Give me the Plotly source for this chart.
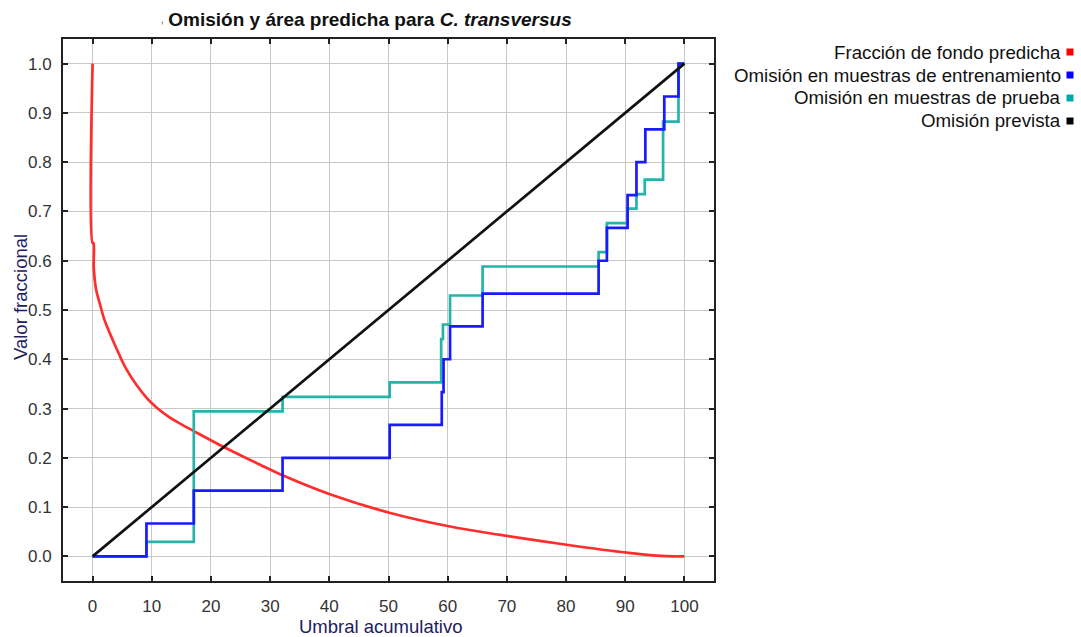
import plotly.graph_objects as go

# Cumulative threshold (x) vs fractional value (y)
bg_x = [0, 0, 0.15, 0.2, 0.6, 1.2, 2.0, 2.7, 4.0, 5.7, 9.1, 11, 13, 15, 17, 22,
        28.3, 32.2, 40.1, 50.3, 60.4, 68.9, 80.1, 90.2, 96, 98, 100]
bg_y = [1.0, 0.636, 0.636, 0.585, 0.541, 0.514, 0.48, 0.459, 0.423, 0.38, 0.322,
        0.300, 0.282, 0.268, 0.255, 0.223, 0.186, 0.164, 0.126, 0.088, 0.0605,
        0.0435, 0.0235, 0.0075, 0.001, 0.0, 0.0]

train_x = [0, 9.1, 17.1, 32.1, 50.2, 59.0, 59.3, 60.4, 65.9, 85.5, 86.9, 90.4,
           91.9, 93.4, 96.6, 99.0, 100]
train_y = [0, 1/15, 2/15, 3/15, 4/15, 5/15, 6/15, 7/15, 8/15, 9/15, 10/15, 11/15,
           12/15, 13/15, 14/15, 1.0, 1.0]

test_x = [0, 9.1, 17.1, 32.1, 50.2, 58.9, 59.2, 60.4, 65.9, 85.5, 86.9, 90.4,
          91.9, 93.3, 96.4, 99.0, 100]
test_y = [0, 1/34, 10/34, 11/34, 12/34, 15/34, 16/34, 18/34, 20/34, 21/34, 23/34,
          24/34, 25/34, 26/34, 30/34, 1.0, 1.0]

pred_x = [0, 100]
pred_y = [0, 1]

legend_labels = ["Fracción de fondo predicha", "Omisión en muestras de entrenamiento",
                 "Omisión en muestras de prueba", "Omisión prevista"]
colors = ["#ff2e2e", "#1a1aff", "#26b3aa", "#111111"]
swatch_colors = ["#ff0000", "#0000ff", "#00aaaa", "#000000"]

x_ticks = list(range(0, 101, 10))
y_ticks = [round(i / 10, 1) for i in range(11)]

FONT = "Liberation Sans, Arial, sans-serif"
LW = 2.7

fig = go.Figure()
fig.add_trace(go.Scatter(x=bg_x, y=bg_y, mode="lines",
                         line=dict(color=colors[0], width=LW, shape="spline", smoothing=1.0)))
fig.add_trace(go.Scatter(x=test_x, y=test_y, mode="lines", line=dict(color=colors[2], width=LW, shape="hv")))
fig.add_trace(go.Scatter(x=train_x, y=train_y, mode="lines", line=dict(color=colors[1], width=LW, shape="hv")))
fig.add_trace(go.Scatter(x=pred_x, y=pred_y, mode="lines", line=dict(color=colors[3], width=LW)))

L, R, T, B = 63, 367, 39, 56
W, H = 1081, 637
pw, ph = W - L - R, H - T - B

axis_common = dict(
    showgrid=True, gridcolor="#c8c8c8", gridwidth=1,
    showline=True, linecolor="#222222", linewidth=2, mirror="ticks",
    ticks="inside", ticklen=5, tickwidth=2, tickcolor="#222222",
    tickfont=dict(family=FONT, size=17, color="#333333"),
    zeroline=False,
)

fig.update_layout(
    width=W, height=H, autosize=False,
    margin=dict(l=L, r=R, t=T, b=B),
    paper_bgcolor="white", plot_bgcolor="white",
    showlegend=False,
    title=dict(text="<b>Omisión y área predicha para <i>C. transversus</i></b>",
               font=dict(family=FONT, size=19, color="#111111"),
               xref="paper", x=(370 - L) / pw, xanchor="center",
               yref="container", y=1 - 19 / H, yanchor="middle"),
    xaxis=dict(range=[-5, 105], tickvals=x_ticks, ticktext=[str(v) for v in x_ticks],
               ticklabelstandoff=9, **axis_common),
    yaxis=dict(range=[-0.05, 1.05], tickvals=y_ticks, ticktext=[f"{v:.1f}" for v in y_ticks],
               ticklabelstandoff=6, **axis_common),
)

# axis titles
fig.add_annotation(xref="paper", yref="paper", x=(380 - L) / pw, y=(H - B - 626) / ph,
                   xanchor="center", yanchor="middle", showarrow=False,
                   text="Umbral acumulativo", font=dict(family=FONT, size=18.5, color="#1c2060"))
fig.add_annotation(xref="paper", yref="paper", x=(20 - L) / pw, y=(H - B - 297) / ph,
                   xanchor="center", yanchor="middle", showarrow=False, textangle=-90,
                   text="Valor fraccional", font=dict(family=FONT, size=18.5, color="#1c2060"))
fig.add_annotation(xref="paper", yref="paper", x=(162 - L) / pw, y=(H - B - 20) / ph,
                   xanchor="center", yanchor="middle", showarrow=False,
                   text=",", font=dict(family=FONT, size=10, color="#555555"))

# legend on the right: right-aligned labels with a colour swatch after each
row_px = [52, 75, 98, 121]
for label, col, py in zip(legend_labels, swatch_colors, row_px):
    yp = (H - B - py) / ph
    fig.add_annotation(xref="paper", yref="paper", x=(1063 - L) / pw, y=yp,
                       xanchor="right", yanchor="middle", showarrow=False,
                       text=label, font=dict(family=FONT, size=18.7, color="#111111"))
    fig.add_shape(type="rect", xref="paper", yref="paper",
                  x0=(1066.5 - L) / pw, x1=(1073.5 - L) / pw,
                  y0=(H - B - py - 3.5) / ph, y1=(H - B - py + 3.5) / ph,
                  fillcolor=col, line=dict(width=0))

fig.write_html("out.html")
